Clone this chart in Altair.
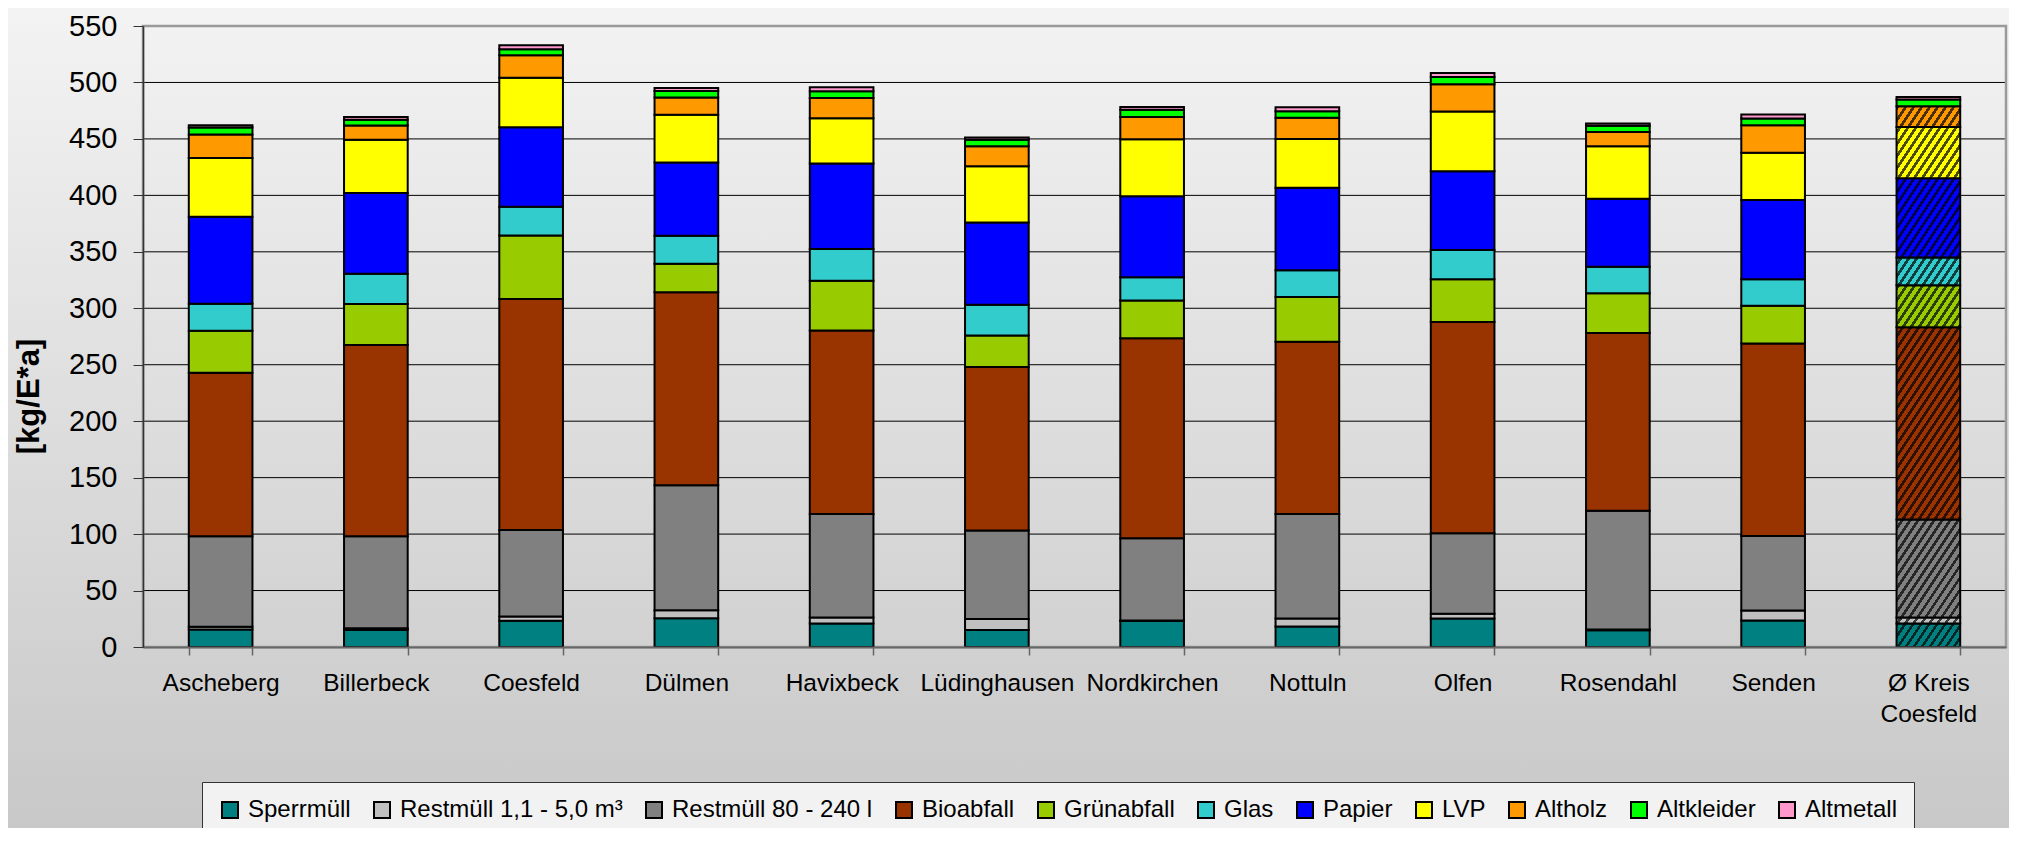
import altair as alt
import pandas as pd

FONT = "Liberation Sans, Arial, Helvetica, sans-serif"

gemeinden = ["Ascheberg", "Billerbeck", "Coesfeld", "Dülmen", "Havixbeck",
             "Lüdinghausen", "Nordkirchen", "Nottuln", "Olfen", "Rosendahl",
             "Senden", "Ø Kreis|Coesfeld"]

fraktionen = ["Sperrmüll", "Restmüll 1,1 - 5,0 m³", "Restmüll 80 - 240 l",
              "Bioabfall", "Grünabfall", "Glas", "Papier", "LVP", "Altholz",
              "Altkleider", "Altmetall"]

farben = ["#008080", "#C0C0C0", "#808080", "#993300", "#99CC00", "#33CCCC",
          "#0000FF", "#FFFF00", "#FF9900", "#00FF00", "#FF99CC"]

sperrmuell      = [15.5, 15.0, 23.2, 25.5, 20.8, 15.0, 23.0, 18.2, 25.3, 14.8, 23.5, 20.8]
restmuell_gross = [2.5, 1.5, 3.8, 7.1, 5.3, 9.7, 0.5, 7.1, 4.1, 0.8, 8.8, 5.3]
restmuell_klein = [80.0, 81.6, 76.7, 110.7, 91.7, 78.4, 72.8, 92.5, 71.3, 105.1, 66.1, 86.9]
bioabfall       = [145.0, 169.4, 204.6, 170.8, 162.5, 144.9, 177.1, 152.5, 187.1, 157.3, 170.3, 170.2]
gruenabfall     = [37.0, 36.3, 56.2, 25.3, 44.1, 27.9, 33.4, 39.7, 38.0, 35.2, 33.6, 37.2]
glas            = [24.0, 26.8, 25.5, 24.9, 28.0, 27.3, 20.6, 23.6, 25.8, 23.5, 23.5, 24.5]
papier          = [77.0, 71.6, 70.3, 64.7, 75.9, 72.7, 71.8, 73.2, 69.7, 60.4, 70.2, 70.2]
lvp             = [52.0, 47.0, 43.9, 42.5, 39.9, 49.9, 50.4, 43.1, 52.9, 46.3, 41.8, 45.5]
altholz         = [21.0, 12.7, 19.8, 15.1, 18.0, 17.8, 19.8, 18.8, 24.3, 12.8, 24.2, 18.4]
altkleider      = [6.0, 5.0, 5.5, 5.9, 6.0, 5.7, 6.4, 5.9, 6.3, 5.4, 6.1, 5.9]
altmetall       = [2.0, 2.5, 3.5, 2.6, 3.5, 2.0, 2.5, 3.5, 3.5, 2.0, 3.5, 2.3]

y_ticks = [0, 50, 100, 150, 200, 250, 300, 350, 400, 450, 500, 550]

serien = [sperrmuell, restmuell_gross, restmuell_klein, bioabfall, gruenabfall,
          glas, papier, lvp, altholz, altkleider, altmetall]

rows = []
for idx, (fr, werte) in enumerate(zip(fraktionen, serien)):
    for g, v in zip(gemeinden, werte):
        rows.append({"Gemeinde": g, "Fraktion": fr, "value": v, "idx": idx})
df = pd.DataFrame(rows)

# ---- layout (pixels) ----
PW, PH = 1863, 621
PAD = {"left": 135, "top": 18, "right": 3, "bottom": 181}
P_INNER = 0.59
YMAX = 550

x_scale = alt.Scale(paddingInner=P_INNER, paddingOuter=P_INNER / 2)
y_scale = alt.Scale(domain=[0, YMAX], nice=False)

x_axis = alt.Axis(title=None, labelAngle=0, labelFontSize=24.5,
                  labelFont=FONT, labelColor="black", labelPadding=16,
                  labelExpr="split(datum.label, '|')",
                  labelLineHeight=31.6, labelLimit=400,
                  tickSize=8, tickColor="#666666", tickWidth=1.5,
                  tickBand="extent", domainColor="#666666",
                  domainWidth=2, grid=False, zindex=1)
y_axis = alt.Axis(values=y_ticks, title="[kg/E*a]", titleFontSize=31,
                  titleFont=FONT, titleFontWeight="bold",
                  titleColor="black", titleX=-105, titleY=370,
                  titleBaseline="alphabetic", titleAngle=270,
                  labelFontSize=29, labelFont=FONT, labelColor="black",
                  labelPadding=16, tickSize=10, tickColor="#333333",
                  domainColor="#333333", domainWidth=1.5, grid=False,
                  zindex=1)

# ---- background gradient (decoration) ----
bg_grad = {"gradient": "linear", "x1": 0, "y1": 0, "x2": 0, "y2": 1,
           "stops": [{"offset": 0, "color": "#f3f3f3"},
                     {"offset": 1, "color": "#c8c8c8"}]}
one = alt.Data(values=[{"k": 0}])
background = alt.Chart(one).mark_rect(fill=bg_grad).encode(
    x=alt.value(-PAD["left"]), x2=alt.value(PW + PAD["right"]),
    y=alt.value(-PAD["top"]), y2=alt.value(PH + PAD["bottom"]))

# ---- grid lines ----
grid = alt.Chart(pd.DataFrame({"v": y_ticks[1:-1]})).mark_rule(
    color="black", strokeWidth=1).encode(
    y=alt.Y("v:Q", scale=y_scale, axis=y_axis))

# ---- plot frame (top / right border) ----
frame = alt.Chart(one).mark_rect(fill="transparent", stroke="#9a9a9a",
                                 strokeWidth=2.5).encode(
    x=alt.value(0), x2=alt.value(PW), y=alt.value(0), y2=alt.value(PH))

# ---- stacked bars ----
bars = alt.Chart(df).mark_bar(stroke="black", strokeWidth=2).encode(
    x=alt.X("Gemeinde:N", sort=gemeinden, scale=x_scale, axis=x_axis),
    y=alt.Y("value:Q", stack="zero", scale=y_scale, axis=y_axis),
    color=alt.Color("Fraktion:N", sort=fraktionen,
                    scale=alt.Scale(domain=fraktionen, range=farben),
                    legend=alt.Legend(title=None, orient="none", legendX=59,
                                      legendY=756, direction="horizontal",
                                      columns=11, symbolType="square",
                                      symbolSize=256, symbolStrokeColor="black",
                                      symbolStrokeWidth=2, labelFontSize=24,
                                      labelFont=FONT, labelColor="black",
                                      labelOffset=6, columnPadding=19,
                                      padding=16, fillColor="#f2f2f2",
                                      strokeColor="#333333", labelLimit=400)),
    order=alt.Order("idx:Q", sort="ascending"),
)

# ---- hatching of the county average bar (gradient stripes) ----
step = PW / len(gemeinden)
bar_w = step * (1 - P_INNER)
hatched_total = sum(s[-1] for s in serien[:9])
bar_h = hatched_total / YMAX * PH
slope = 1.5
k = bar_h / (bar_w * slope)
a = (1 + k) / (1 + k * k)
n = int(round(bar_w * (1 + k) / 8))
dark, clear = "rgba(0,0,0,0.7)", "rgba(0,0,0,0)"
stops = []
for i in range(n):
    t0, t1, t2 = i / n, (i + 0.4) / n, (i + 1) / n
    stops += [{"offset": round(t0, 6), "color": dark},
              {"offset": round(t1, 6), "color": dark},
              {"offset": round(t1, 6), "color": clear},
              {"offset": round(t2, 6), "color": clear}]
hatch_grad = {"gradient": "linear", "x1": 0, "y1": 0, "x2": a, "y2": k * a,
              "stops": stops}

hatch = alt.Chart(df).transform_filter(
    alt.datum.Gemeinde == gemeinden[-1]).transform_filter(
    alt.datum.idx < 9).mark_bar(fill=hatch_grad).encode(
    x=alt.X("Gemeinde:N", sort=gemeinden, scale=x_scale, axis=x_axis),
    y=alt.Y("sum(value):Q", scale=y_scale, axis=y_axis))

chart = alt.layer(background, grid, frame, bars, hatch).properties(
    width=PW, height=PH, padding=PAD,
    autosize=alt.AutoSizeParams(type="none"),
).configure(font=FONT, background="#dcdcdc").configure_view(strokeWidth=0)

chart.save("out.html", embed_options={"renderer": "svg", "actions": False})
